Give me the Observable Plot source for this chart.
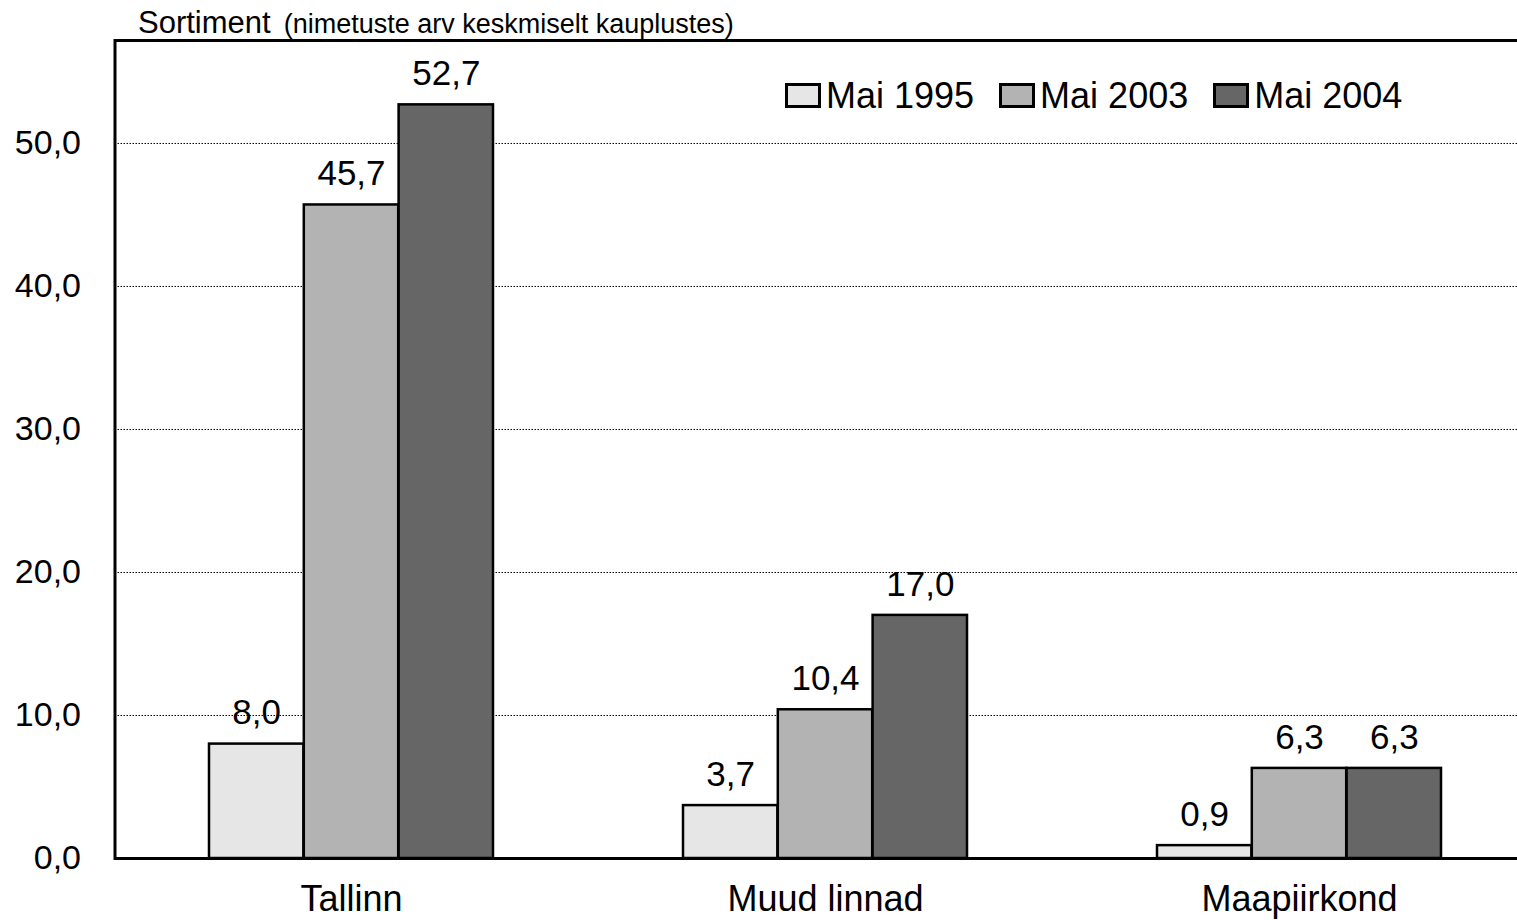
<!DOCTYPE html>
<html>
<head>
<meta charset="utf-8">
<script src="https://cdn.jsdelivr.net/npm/d3@7"></script>
<script src="https://cdn.jsdelivr.net/npm/@observablehq/plot@0.6"></script>
<style>
  html, body { margin: 0; padding: 0; background: #fff; overflow: hidden; }
  #wrap { position: relative; width: 1517px; height: 920px; font-family: "Liberation Sans", Arial, sans-serif; color: #000; }
  #title { position: absolute; left: 138px; top: 7px; display: flex; align-items: baseline; line-height: 1; white-space: nowrap; }
  #title .main { font-size: 31px; }
  #title .sub { font-size: 27px; margin-left: 13px; }
  #legend { position: absolute; left: 785px; top: 78px; display: flex; align-items: baseline; line-height: 1; font-size: 36px; white-space: nowrap; }
  #legend .item { display: flex; align-items: baseline; margin-right: 25px; }
  #legend .box { display: inline-block; width: 36px; height: 25px; box-sizing: border-box; border: 3px solid #000; margin-right: 5px; }
</style>
</head>
<body>
<div id="wrap">
  <div id="chart"></div>
  <div id="title"><span class="main">Sortiment</span><span class="sub">(nimetuste arv keskmiselt kauplustes)</span></div>
  <div id="legend"></div>
</div>
<script>
const categories = ["Tallinn", "Muud linnad", "Maapiirkond"];
const years = ["Mai 1995", "Mai 2003", "Mai 2004"];
const values1995 = [8.0, 3.7, 0.9];
const values2003 = [45.7, 10.4, 6.3];
const values2004 = [52.7, 17.0, 6.3];
const colors = ["#e6e6e6", "#b3b3b3", "#666666"];
const yTicks = [0, 10, 20, 30, 40, 50];
const yMax = 57.2;

const series = [values1995, values2003, values2004];
const data = [];
years.forEach((yr, i) => categories.forEach((c, j) => data.push({cat: c, year: yr, value: series[i][j]})));

const fmt = d => d.toFixed(1).replace(".", ",");

const W = 1517, H = 920;
const mL = 114.5, mR = -19.5, mT = 40, mB = 62;
const pInner = 0.4, pOuter = 0.2;
const plotW = W - mL - mR;
const step = plotW / (categories.length - pInner + 2 * pOuter);
const bw = step * (1 - pInner);
const sub = bw / years.length;

const marks = [
  Plot.ruleY(yTicks.filter(d => d > 0), {stroke: "#000", strokeWidth: 1, strokeDasharray: "1.5,1.5"})
];
years.forEach((yr, i) => {
  marks.push(Plot.barY(data.filter(d => d.year === yr), {
    x: "cat", y: "value", fill: colors[i], stroke: "#000", strokeWidth: 2.5,
    insetLeft: i * sub, insetRight: (years.length - 1 - i) * sub
  }));
});
marks.push(Plot.ruleY([0], {stroke: "#000", strokeWidth: 3}));
marks.push(Plot.frame({stroke: "#000", strokeWidth: 3}));
years.forEach((yr, i) => {
  marks.push(Plot.text(data.filter(d => d.year === yr), {
    x: "cat", y: "value", text: d => fmt(d.value), fontSize: 35,
    dx: (i - (years.length - 1) / 2) * sub, dy: -31, fill: "#000"
  }));
});
marks.push(Plot.axisY(yTicks, {tickSize: 0, tickPadding: 34, fontSize: 34, tickFormat: fmt}));
marks.push(Plot.axisX({tickSize: 0, tickPadding: 27, fontSize: 36}));

const chart = Plot.plot({
  width: W, height: H,
  marginLeft: mL, marginRight: mR, marginTop: mT, marginBottom: mB,
  style: {fontFamily: "Liberation Sans, Arial, sans-serif", background: "#fff", color: "#000", overflow: "hidden"},
  x: {domain: categories, paddingInner: pInner, paddingOuter: pOuter, label: null},
  y: {domain: [0, yMax], label: null},
  marks
});
document.getElementById("chart").appendChild(chart);

const legend = document.getElementById("legend");
years.forEach((yr, i) => {
  const item = document.createElement("span");
  item.className = "item";
  const box = document.createElement("span");
  box.className = "box";
  box.style.background = colors[i];
  const t = document.createElement("span");
  t.textContent = yr;
  item.appendChild(box);
  item.appendChild(t);
  legend.appendChild(item);
});
</script>
</body>
</html>
